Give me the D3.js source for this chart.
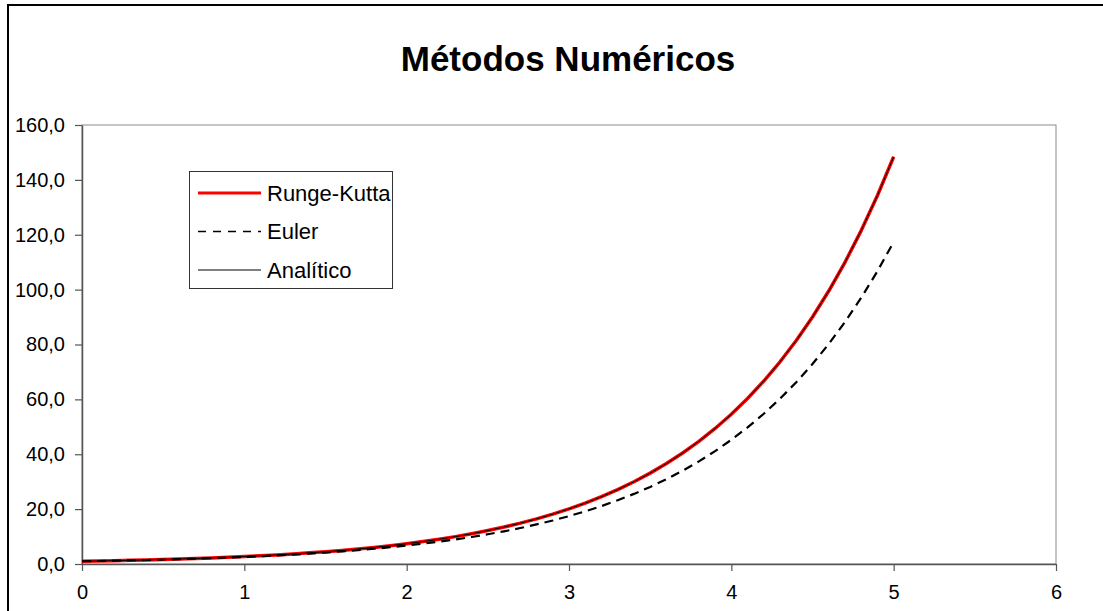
<!DOCTYPE html>
<html>
<head>
<meta charset="utf-8">
<script src="https://cdn.jsdelivr.net/npm/d3@7"></script>
<style>
  html, body { margin: 0; padding: 0; background: #fff; }
  svg { display: block; font-family: "Liberation Sans", Arial, sans-serif; }
</style>
</head>
<body>
<svg id="chart" width="1103" height="611"></svg>
<script>
// Step values t = 0.0 … 5.0 (h = 0.1)
const tValues = [0.0,0.1,0.2,0.3,0.4,0.5,0.6,0.7,0.8,0.9,1.0,1.1,1.2,1.3,1.4,1.5,1.6,1.7,1.8,1.9,
  2.0,2.1,2.2,2.3,2.4,2.5,2.6,2.7,2.8,2.9,3.0,3.1,3.2,3.3,3.4,3.5,3.6,3.7,3.8,3.9,
  4.0,4.1,4.2,4.3,4.4,4.5,4.6,4.7,4.8,4.9,5.0];

const rungeKutta = [1.00,1.11,1.22,1.35,1.49,1.65,1.82,2.01,2.23,2.46,2.72,3.00,3.32,3.67,4.06,4.48,4.95,5.47,6.05,6.69,
  7.39,8.17,9.03,9.97,11.02,12.18,13.46,14.88,16.44,18.17,20.09,22.20,24.53,27.11,29.96,33.12,36.60,40.45,44.70,49.40,
  54.60,60.34,66.69,73.70,81.45,90.02,99.48,109.95,121.51,134.29,148.41];

const euler = [1.00,1.10,1.21,1.33,1.46,1.61,1.77,1.95,2.14,2.36,2.59,2.85,3.14,3.45,3.80,4.18,4.59,5.05,5.56,6.12,
  6.73,7.40,8.14,8.95,9.85,10.83,11.92,13.11,14.42,15.86,17.45,19.19,21.11,23.23,25.55,28.10,30.91,34.00,37.40,41.14,
  45.26,49.79,54.76,60.24,66.26,72.89,80.18,88.20,97.02,106.72,117.39];

const analitico = [1.00,1.11,1.22,1.35,1.49,1.65,1.82,2.01,2.23,2.46,2.72,3.00,3.32,3.67,4.06,4.48,4.95,5.47,6.05,6.69,
  7.39,8.17,9.03,9.97,11.02,12.18,13.46,14.88,16.44,18.17,20.09,22.20,24.53,27.11,29.96,33.12,36.60,40.45,44.70,49.40,
  54.60,60.34,66.69,73.70,81.45,90.02,99.48,109.95,121.51,134.29,148.41];

const xTicks = [0, 1, 2, 3, 4, 5, 6];
const yTicks = [0, 20, 40, 60, 80, 100, 120, 140, 160];
const seriesNames = ["Runge-Kutta", "Euler", "Analítico"];
const chartTitle = "Métodos Numéricos";

const svg = d3.select("#chart");
const plot = { left: 82, right: 1056, top: 125, bottom: 564 };

const x = d3.scaleLinear().domain([0, 6]).range([plot.left, plot.right]);
const y = d3.scaleLinear().domain([0, 160]).range([plot.bottom, plot.top]);

// outer chart frame (extends past the right and bottom edges)
svg.append("rect")
  .attr("x", 8).attr("y", 5).attr("width", 1110).attr("height", 620)
  .attr("fill", "#fff").attr("stroke", "#000").attr("stroke-width", 2);

// title
svg.append("text")
  .attr("x", 568).attr("y", 71)
  .attr("text-anchor", "middle")
  .attr("font-size", 35).attr("font-weight", "bold")
  .text(chartTitle);

// plot area border
svg.append("rect")
  .attr("x", plot.left).attr("y", plot.top)
  .attr("width", plot.right - plot.left).attr("height", plot.bottom - plot.top)
  .attr("fill", "#fff").attr("stroke", "#8c8c8c").attr("stroke-width", 1);

// axes
const xAxis = d3.axisBottom(x).tickValues(xTicks).tickFormat(d3.format("d"))
  .tickSizeInner(7).tickSizeOuter(0).tickPadding(14);
const yAxis = d3.axisLeft(y).tickValues(yTicks)
  .tickFormat(d => d3.format(".1f")(d).replace(".", ","))
  .tickSizeInner(7).tickSizeOuter(0).tickPadding(10);

const gx = svg.append("g").attr("transform", `translate(0,${plot.bottom})`).call(xAxis);
const gy = svg.append("g").attr("transform", `translate(${plot.left},0)`).call(yAxis);

[gx, gy].forEach(g => {
  g.select(".domain").attr("stroke", "#555").attr("stroke-width", 1.5);
  g.selectAll(".tick line").attr("stroke", "#555").attr("stroke-width", 1.2);
  g.selectAll(".tick text").attr("fill", "#000").attr("font-size", 20)
    .attr("font-family", "'Liberation Sans', Arial, sans-serif");
});

// series
const line = vals => d3.line()
  .x((d, i) => x(tValues[i]))
  .y(d => y(d))(vals);

svg.append("path").attr("d", line(rungeKutta))
  .attr("fill", "none").attr("stroke", "#ff0000").attr("stroke-width", 3.5)
  .attr("stroke-linejoin", "round");
svg.append("path").attr("d", line(euler))
  .attr("fill", "none").attr("stroke", "#000").attr("stroke-width", 2.2)
  .attr("stroke-dasharray", "9,6");
svg.append("path").attr("d", line(analitico))
  .attr("fill", "none").attr("stroke", "#000").attr("stroke-width", 1)
  .attr("stroke-linejoin", "round");

// legend
const legend = svg.append("g");
legend.append("rect")
  .attr("x", 189.5).attr("y", 171.5).attr("width", 203).attr("height", 117)
  .attr("fill", "#fff").attr("stroke", "#333").attr("stroke-width", 1);

const legendStyles = [
  { stroke: "#ff0000", width: 3, dash: null },
  { stroke: "#000", width: 1.5, dash: "8,7" },
  { stroke: "#000", width: 1.2, dash: null }
];
const rowY = d3.scalePoint().domain(seriesNames).range([193, 270]);

seriesNames.forEach((name, i) => {
  const yy = rowY(name);
  legend.append("line")
    .attr("x1", 198).attr("x2", 261).attr("y1", yy).attr("y2", yy)
    .attr("stroke", legendStyles[i].stroke)
    .attr("stroke-width", legendStyles[i].width)
    .attr("stroke-dasharray", legendStyles[i].dash);
  legend.append("text")
    .attr("x", 267).attr("y", yy).attr("dy", "0.36em")
    .attr("font-size", 22)
    .text(name);
});
</script>
</body>
</html>
